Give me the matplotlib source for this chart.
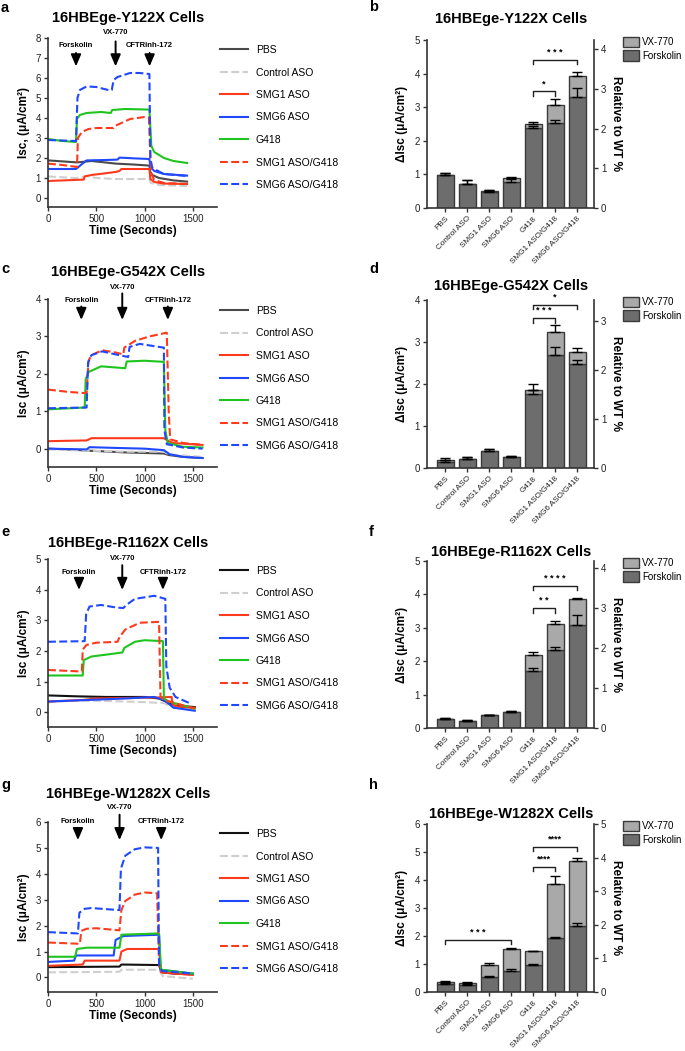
import matplotlib
matplotlib.use("Agg")
import matplotlib.pyplot as plt
from matplotlib.patches import Patch

plt.rcParams['font.family'] = ['Liberation Sans', 'DejaVu Sans']

# ---- trace data (time s, Isc uA/cm2) ----
names = ['PBS', 'Control ASO', 'SMG1 ASO', 'SMG6 ASO', 'G418', 'SMG1 ASO/G418', 'SMG6 ASO/G418']

a_pbs = [(0, 1.88), (150, 1.83), (300, 1.78), (450, 1.85), (550, 1.8), (700, 1.72), (900, 1.67), (1050, 1.62), (1060, 1.3), (1080, 1.15), (1150, 1.0), (1300, 0.88), (1440, 0.82)]
a_ctrl = [(0, 1.08), (280, 1.0), (330, 1.02), (400, 1.1), (500, 1.0), (700, 0.95), (1050, 0.95), (1065, 0.75), (1150, 0.65), (1440, 0.6)]
a_smg1 = [(0, 0.85), (370, 0.92), (380, 1.08), (450, 1.15), (700, 1.3), (740, 1.35), (760, 1.45), (1050, 1.45), (1060, 0.95), (1100, 0.8), (1200, 0.72), (1440, 0.7)]
a_smg6 = [(0, 1.45), (290, 1.45), (340, 1.65), (400, 1.88), (600, 1.9), (720, 1.92), (740, 2.02), (900, 1.98), (1050, 1.95), (1060, 1.55), (1100, 1.35), (1200, 1.2), (1440, 1.12)]
a_g418 = [(0, 2.95), (150, 2.85), (290, 2.8), (300, 3.95), (330, 4.15), (400, 4.25), (550, 4.3), (650, 4.25), (665, 4.4), (800, 4.45), (1050, 4.42), (1070, 2.6), (1100, 2.3), (1200, 2.0), (1300, 1.85), (1440, 1.75)]
a_smg1g = [(0, 1.72), (150, 1.65), (300, 1.55), (310, 3.0), (350, 3.3), (420, 3.45), (500, 3.5), (680, 3.5), (700, 3.62), (760, 3.75), (850, 3.95), (1000, 4.05), (1045, 4.02), (1060, 2.0), (1070, 1.2), (1100, 0.9), (1200, 0.75), (1440, 0.7)]
a_smg6g = [(0, 2.9), (290, 2.85), (305, 5.0), (330, 5.4), (400, 5.58), (500, 5.55), (640, 5.38), (660, 5.4), (680, 5.9), (720, 6.05), (850, 6.25), (950, 6.25), (1050, 6.2), (1060, 2.0), (1080, 1.5), (1200, 1.2), (1440, 1.1)]

c_pbs = [(0, 0.0), (200, -0.02), (400, -0.05), (800, -0.1), (1200, -0.13), (1250, -0.17), (1400, -0.22), (1600, -0.25)]
c_ctrl = [(0, -0.02), (400, -0.05), (800, -0.08), (1200, -0.08), (1250, -0.15), (1600, -0.22)]
c_smg1 = [(0, 0.2), (400, 0.22), (450, 0.28), (800, 0.28), (1200, 0.28), (1250, 0.2), (1300, 0.15), (1600, 0.1)]
c_smg6 = [(0, 0.0), (400, -0.02), (430, 0.04), (700, 0.02), (1000, 0.0), (1200, -0.04), (1260, -0.15), (1400, -0.22), (1600, -0.25)]
c_g418 = [(0, 1.05), (380, 1.1), (390, 1.85), (420, 2.05), (550, 2.2), (800, 2.15), (815, 2.33), (1000, 2.35), (1200, 2.32), (1215, 0.5), (1240, 0.15), (1400, 0.05), (1600, 0.03)]
c_smg1g = [(0, 1.58), (200, 1.52), (400, 1.48), (420, 2.35), (450, 2.5), (560, 2.63), (700, 2.57), (780, 2.52), (790, 2.7), (900, 2.88), (1050, 3.0), (1230, 3.1), (1250, 1.0), (1265, 0.25), (1400, 0.15), (1600, 0.1)]
c_smg6g = [(0, 1.08), (400, 1.1), (415, 2.3), (450, 2.5), (560, 2.6), (700, 2.52), (830, 2.45), (845, 2.72), (950, 2.8), (1200, 2.7), (1205, 0.5), (1230, 0.12), (1400, 0.03), (1600, 0.0)]

e_pbs = [(0, 0.55), (300, 0.52), (600, 0.5), (1000, 0.5), (1150, 0.45), (1220, 0.35), (1300, 0.22), (1520, 0.17)]
e_ctrl = [(0, 0.33), (300, 0.38), (600, 0.37), (1000, 0.33), (1200, 0.3), (1300, 0.15), (1520, 0.1)]
e_smg1 = [(0, 0.35), (350, 0.4), (500, 0.45), (1100, 0.48), (1280, 0.5), (1290, 0.25), (1350, 0.18), (1520, 0.15)]
e_smg6 = [(0, 0.35), (400, 0.4), (800, 0.45), (1100, 0.5), (1200, 0.4), (1300, 0.15), (1520, 0.05)]
e_g418 = [(0, 1.2), (360, 1.2), (370, 1.7), (450, 1.82), (600, 1.88), (770, 1.95), (790, 2.1), (900, 2.3), (1000, 2.35), (1190, 2.32), (1200, 0.45), (1250, 0.35), (1520, 0.12)]
e_smg1g = [(0, 1.38), (350, 1.33), (360, 2.05), (400, 2.2), (500, 2.27), (720, 2.3), (740, 2.45), (800, 2.7), (950, 2.92), (1150, 2.95), (1165, 0.5), (1200, 0.4), (1520, 0.12)]
e_smg6g = [(0, 2.3), (380, 2.32), (395, 3.2), (430, 3.45), (550, 3.5), (700, 3.42), (780, 3.4), (810, 3.5), (900, 3.7), (1100, 3.8), (1215, 3.7), (1225, 1.5), (1260, 0.8), (1320, 0.5), (1465, 0.3)]

g_pbs = [(0, 0.4), (740, 0.42), (760, 0.5), (1150, 0.48), (1175, 0.2), (1300, 0.15), (1500, 0.13)]
g_ctrl = [(0, 0.2), (740, 0.22), (760, 0.3), (1150, 0.3), (1190, 0.05), (1500, -0.05)]
g_smg1 = [(0, 0.45), (360, 0.5), (380, 0.65), (740, 0.65), (760, 1.0), (820, 1.1), (1150, 1.1), (1170, 0.2), (1500, 0.1)]
g_smg6 = [(0, 0.6), (270, 0.65), (290, 0.85), (680, 0.85), (700, 1.45), (780, 1.6), (1150, 1.65), (1165, 0.3), (1500, 0.15)]
g_g418 = [(0, 0.8), (280, 0.8), (300, 1.1), (400, 1.15), (740, 1.15), (760, 1.65), (1150, 1.7), (1170, 0.3), (1500, 0.15)]
g_smg1g = [(0, 1.35), (330, 1.3), (345, 1.8), (400, 1.88), (500, 1.9), (740, 1.82), (760, 2.6), (800, 2.95), (900, 3.2), (1000, 3.28), (1130, 3.25), (1150, 0.5), (1180, 0.2), (1500, 0.1)]
g_smg6g = [(0, 1.75), (310, 1.7), (325, 2.5), (380, 2.65), (450, 2.68), (740, 2.6), (755, 4.2), (800, 4.7), (900, 4.95), (1000, 5.02), (1140, 5.0), (1150, 0.5), (1180, 0.25), (1500, 0.15)]

# addition times: forskolin, VX-770, CFTRinh-172
a_adds = [290, 700, 1052]
c_adds = [345, 769, 1241]
e_adds = [321, 769, 1190]
g_adds = [310, 741, 1172]

# ---- bar data (uA/cm2) ----
groups = ['PBS', 'Control ASO', 'SMG1 ASO', 'SMG6 ASO', 'G418', 'SMG1 ASO/G418', 'SMG6 ASO/G418']

b_forsk = [0.98, 0.70, 0.48, 0.78, 2.38, 2.53, 3.30]
b_vx = [0.0, 0.0, 0.04, 0.10, 0.12, 0.54, 0.63]
b_forsk_sem = [0.07, 0.12, 0.05, 0.07, 0.07, 0.09, 0.28]
b_total_sem = [0.07, 0.12, 0.03, 0.04, 0.07, 0.18, 0.12]

d_forsk = [0.15, 0.22, 0.41, 0.26, 1.76, 2.70, 2.48]
d_vx = [0.04, 0.0, 0.0, 0.0, 0.10, 0.53, 0.28]
d_forsk_sem = [0.04, 0.04, 0.05, 0.02, 0.10, 0.17, 0.08]
d_total_sem = [0.04, 0.04, 0.05, 0.02, 0.13, 0.18, 0.09]

f_forsk = [0.27, 0.20, 0.38, 0.48, 1.70, 2.33, 3.08]
f_vx = [0.0, 0.0, 0.0, 0.0, 0.50, 0.79, 0.79]
f_forsk_sem = [0.02, 0.05, 0.02, 0.03, 0.10, 0.10, 0.29]
f_total_sem = [0.02, 0.05, 0.02, 0.03, 0.09, 0.08, 0.03]

h_forsk = [0.28, 0.25, 0.55, 0.75, 0.95, 1.92, 2.35]
h_vx = [0.08, 0.07, 0.42, 0.77, 0.50, 1.93, 2.33]
h_forsk_sem = [0.03, 0.03, 0.02, 0.07, 0.06, 0.06, 0.13]
h_total_sem = [0.02, 0.02, 0.08, 0.06, 0.03, 0.30, 0.10]

# significance brackets: (from, to, height, label)
b_sig = [(4, 6, 4.4, '* * *'), (4, 5, 3.47, '*')]
d_sig = [(4, 5, 3.56, '* * *'), (4, 6, 3.88, '*')]
f_sig = [(4, 5, 3.58, '* *'), (4, 6, 4.25, '* * * *')]
h_sig = [(0, 3, 1.85, '* * *'), (4, 5, 4.47, '****'), (4, 6, 5.19, '****')]

W, H = 685, 1051
fig = plt.figure(figsize=(W / 100, H / 100), dpi=100)


def box(l, t, r, b):
    return [l / W, 1 - b / H, (r - l) / W, (b - t) / H]


def fy(y):
    return 1 - y / H


colors = ['#3a3a3a', '#cfcfcf', '#ff3a1c', '#1f48ff', '#1fc41f', '#ff3a1c', '#1f48ff']
dashed = [False, True, False, False, False, True, True]
SPINE = '#333333'


def style_axis(ax):
    for s in ['top', 'right']:
        ax.spines[s].set_visible(False)
    for s in ['left', 'bottom']:
        ax.spines[s].set_linewidth(1.2)
        ax.spines[s].set_color(SPINE)
    ax.tick_params(direction='out', length=3, width=1, colors=SPINE, labelsize=7, labelcolor='#222222', pad=2)


def line_panel(top, bottom, letter, letter_y, title, title_y, ylabel, series, ylim, ytop, adds, arr, pbs_color):
    ax = fig.add_axes(box(48, top, 217, bottom))
    style_axis(ax)
    for i, pts in enumerate(series):
        t, y = zip(*pts)
        c = pbs_color if i == 0 else colors[i]
        if dashed[i]:
            ax.plot(t, y, color=c, lw=1.5, label=names[i], dashes=(3.8, 1.6))
        else:
            ax.plot(t, y, color=c, lw=1.5, label=names[i])
    ax.set_xlim(0, 1750)
    ax.set_ylim(*ylim)
    ax.set_xticks([0, 500, 1000, 1500])
    ax.set_yticks(range(0, ytop + 1))
    ax.set_xlabel('Time (Seconds)', fontsize=8.5, fontweight='bold', labelpad=1)
    ax.set_ylabel(ylabel, fontsize=8.5, fontweight='bold', labelpad=4)
    tip, stop, ltop, lab, vlab = arr
    labels = ['Forskolin', 'VX-770', 'CFTRinh-172']
    for k, x in enumerate(adds):
        y0 = ltop if k == 1 else stop
        ax.annotate('', xy=(x, tip), xytext=(x, y0), annotation_clip=False,
                    arrowprops=dict(arrowstyle='-|>,head_width=0.3,head_length=0.7', lw=1.4,
                                    color='black', shrinkA=0, shrinkB=0, mutation_scale=10))
        ax.text(x, vlab if k == 1 else lab, labels[k], ha='center', va='center',
                fontsize=5.5, fontweight='bold', clip_on=False)
    ax.legend(loc='upper left', bbox_to_anchor=(220 / W, fy(top + 7)),
              bbox_transform=fig.transFigure, frameon=False, fontsize=7.5,
              handlelength=2.7, handletextpad=0.75, labelspacing=1.2,
              borderpad=0, borderaxespad=0)
    fig.text(128 / W, fy(title_y), title, ha='center', va='center', fontsize=10.5, fontweight='bold')
    fig.text(1 / W, fy(letter_y), letter, ha='left', va='center', fontsize=10.5, fontweight='bold')
    return ax


line_panel(38, 207, 'a', 8, '16HBEge-Y122X Cells', 18, 'Isc, (μA/cm²)',
           [a_pbs, a_ctrl, a_smg1, a_smg6, a_g418, a_smg1g, a_smg6g],
           (-0.45, 8), 8, a_adds, (6.58, 7.25, 7.83, 7.6, 8.25), '#4a4a4a')
line_panel(299, 467, 'c', 269, '16HBEge-G542X Cells', 272, 'Isc (μA/cm²)',
           [c_pbs, c_ctrl, c_smg1, c_smg6, c_g418, c_smg1g, c_smg6g],
           (-0.49, 4), 4, c_adds, (3.44, 3.8, 4.15, 3.97, 4.3), '#4a4a4a')
line_panel(559, 727, 'e', 532, '16HBEge-R1162X Cells', 543, 'Isc (μA/cm²)',
           [e_pbs, e_ctrl, e_smg1, e_smg6, e_g418, e_smg1g, e_smg6g],
           (-0.48, 5), 5, e_adds, (3.99, 4.37, 4.8, 4.57, 5.0), '#111111')
line_panel(822, 992, 'g', 785, '16HBEge-W1282X Cells', 794, 'Isc (μA/cm²)',
           [g_pbs, g_ctrl, g_smg1, g_smg6, g_g418, g_smg1g, g_smg6g],
           (-0.56, 6), 6, g_adds, (5.3, 5.77, 6.28, 6.03, 6.55), '#111111')

FORSK = '#6d6d6d'
VX = '#a9a9a9'
EDGE = '#3a3a3a'


def bar_panel(top, bottom, letter, letter_y, title, title_y, forsk, vx, fsem, tsem, sig, ytop, rtop):
    ax = fig.add_axes(box(427, top, 594, bottom))
    style_axis(ax)
    x = list(range(len(groups)))
    total = [f + v for f, v in zip(forsk, vx)]
    ax.bar(x, forsk, width=0.77, color=FORSK, edgecolor=EDGE, lw=1, zorder=2)
    ax.bar(x, vx, bottom=forsk, width=0.77, color=VX, edgecolor=EDGE, lw=1, zorder=2)
    ax.errorbar(x, total, yerr=[[0] * len(x), tsem], fmt='none', ecolor='black',
                elinewidth=1, capsize=3.5, capthick=1, zorder=3)
    ax.errorbar(x, forsk, yerr=[[0] * len(x), fsem], fmt='none', ecolor='black',
                elinewidth=1, capsize=3.5, capthick=1, zorder=3)
    ax.set_xlim(-0.82, 6.77)
    ax.set_ylim(0, ytop)
    ax.set_yticks(range(0, ytop + 1))
    ax.set_xticks(x)
    ax.set_xticklabels(groups, rotation=45, ha='right', rotation_mode='anchor', fontsize=5.9)
    ax.set_ylabel('ΔIsc (μA/cm²)', fontsize=8.5, fontweight='bold', labelpad=5)
    leg_h = 0.025 * ytop
    for i0, i1, y, s in sig:
        ax.plot([i0, i0, i1, i1], [y - leg_h, y, y, y - leg_h], color='#222222', lw=1, clip_on=False)
        ax.text((i0 + i1) / 2, y + 0.02 * ytop, s, ha='center', va='bottom', fontsize=6.5,
                fontweight='bold', clip_on=False)
    ax2 = ax.twinx()
    ax2.spines['top'].set_visible(False)
    ax2.spines['left'].set_visible(False)
    ax2.spines['bottom'].set_visible(False)
    ax2.spines['right'].set_linewidth(1.2)
    ax2.spines['right'].set_color(SPINE)
    ax2.set_ylim(0, rtop)
    ax2.set_yticks(range(0, int(rtop) + 1))
    ax2.tick_params(direction='out', length=3, width=1, colors=SPINE, labelsize=7, labelcolor='#222222', pad=2)
    ax2.set_ylabel('Relative to WT %', fontsize=8.5, fontweight='bold', rotation=270, labelpad=11)
    handles = [Patch(facecolor=VX, edgecolor=EDGE, lw=1), Patch(facecolor=FORSK, edgecolor=EDGE, lw=1)]
    ax2.legend(handles, ['VX-770', 'Forskolin'], loc='upper left', bbox_to_anchor=(623 / W, fy(top - 3)),
               bbox_transform=fig.transFigure, frameon=False, fontsize=7, handlelength=1.6,
               handleheight=1.25, handletextpad=0.4, labelspacing=0.3, borderpad=0, borderaxespad=0)
    fig.text(511 / W, fy(title_y), title, ha='center', va='center', fontsize=10.5, fontweight='bold')
    fig.text(369 / W, fy(letter_y), letter, ha='left', va='center', fontsize=10.5, fontweight='bold')
    return ax


bar_panel(40, 208, 'b', 7, '16HBEge-Y122X Cells', 19, b_forsk, b_vx, b_forsk_sem, b_total_sem, b_sig, 5, 4.23)
bar_panel(300, 468, 'd', 269, '16HBEge-G542X Cells', 286, d_forsk, d_vx, d_forsk_sem, d_total_sem, d_sig, 4, 3.43)
bar_panel(561, 728, 'f', 532, '16HBEge-R1162X Cells', 552, f_forsk, f_vx, f_forsk_sem, f_total_sem, f_sig, 5, 4.18)
bar_panel(824, 992, 'h', 785, '16HBEge-W1282X Cells', 814, h_forsk, h_vx, h_forsk_sem, h_total_sem, h_sig, 6, 5.0)

fig.savefig('out.png', dpi=100)
